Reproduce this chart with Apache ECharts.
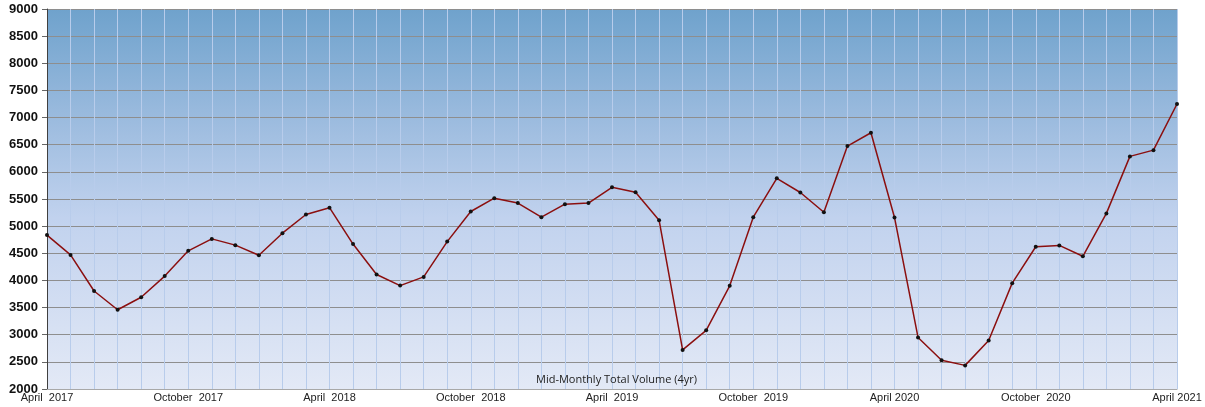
<!DOCTYPE html>
<html>
<head>
<meta charset="utf-8">
<script src="https://cdn.jsdelivr.net/npm/echarts@6/dist/echarts.min.js"></script>
<style>
html,body{margin:0;padding:0;background:#fff;}
#chart{width:1205px;height:407px;}
</style>
</head>
<body>
<div id="chart"></div>
<script>
// Months April 2017 .. April 2021
const months = [
  "2017-04","2017-05","2017-06","2017-07","2017-08","2017-09","2017-10","2017-11","2017-12",
  "2018-01","2018-02","2018-03","2018-04","2018-05","2018-06","2018-07","2018-08","2018-09","2018-10","2018-11","2018-12",
  "2019-01","2019-02","2019-03","2019-04","2019-05","2019-06","2019-07","2019-08","2019-09","2019-10","2019-11","2019-12",
  "2020-01","2020-02","2020-03","2020-04","2020-05","2020-06","2020-07","2020-08","2020-09","2020-10","2020-11","2020-12",
  "2021-01","2021-02","2021-03","2021-04"
];
const volume = [
  4835, 4470, 3805, 3460, 3690, 4080, 4545, 4765, 4650,
  4465, 4870, 5215, 5340, 4670, 4110, 3905, 4065, 4715, 5270, 5515, 5425,
  5165, 5405, 5425, 5715, 5625, 5110, 2720, 3080, 3900, 5165, 5880, 5620,
  5255, 6475, 6720, 5160, 2950, 2530, 2435, 2895, 3950, 4620, 4645, 4445,
  5235, 6285, 6400, 7250
];
const xTickLabels = {
  "2017-04": "April  2017",
  "2017-10": "October  2017",
  "2018-04": "April  2018",
  "2018-10": "October  2018",
  "2019-04": "April  2019",
  "2019-10": "October  2019",
  "2020-04": "April 2020",
  "2020-10": "October  2020",
  "2021-04": "April 2021"
};
const chartTitle = "Mid-Monthly Total Volume (4yr)";

const chart = echarts.init(document.getElementById('chart'), null, {renderer: 'canvas'});
chart.setOption({
  animation: false,
  backgroundColor: '#ffffff',
  title: {
    text: chartTitle,
    left: 531,
    top: 369,
    textStyle: {fontFamily: 'Open Sans', fontSize: 11, fontWeight: 'normal', color: '#222'}
  },
  grid: {
    left: 47, right: 28, top: 9, bottom: 18,
    show: true,
    borderWidth: 0,
    backgroundColor: new echarts.graphic.LinearGradient(0, 0, 0, 1, [
      {offset: 0, color: '#6fa2cc'},
      {offset: 0.3, color: '#9dbcdf'},
      {offset: 0.55, color: '#c1d2ee'},
      {offset: 1, color: '#e3e9f6'}
    ])
  },
  xAxis: {
    type: 'category',
    boundaryGap: false,
    data: months,
    axisLine: {show: true, lineStyle: {color: '#a8a8a8', width: 1}},
    axisTick: {show: false},
    axisLabel: {
      interval: 0,
      margin: 3,
      fontFamily: 'Liberation Sans',
      fontSize: 11,
      color: '#222',
      formatter: function (v) { return xTickLabels[v] || ''; }
    },
    splitLine: {show: true, interval: 0, lineStyle: {color: '#b8cceb', width: 1}}
  },
  yAxis: {
    type: 'value',
    min: 2000, max: 9000, interval: 500,
    axisLine: {show: true, lineStyle: {color: '#404040', width: 1}},
    axisTick: {show: true, length: 5, lineStyle: {color: '#666'}},
    axisLabel: {
      margin: 9,
      fontFamily: 'Liberation Sans',
      fontSize: 13,
      fontWeight: 'bold',
      color: '#111',
      formatter: function (v) { return String(v); }
    },
    splitLine: {show: true, lineStyle: {color: '#8e8e8e', width: 1.2}}
  },
  series: [{
    type: 'line',
    data: volume,
    symbol: 'circle',
    symbolSize: 4,
    showAllSymbol: true,
    itemStyle: {color: '#111'},
    lineStyle: {color: '#8b0f0f', width: 1.5}
  }]
});
</script>
</body>
</html>
